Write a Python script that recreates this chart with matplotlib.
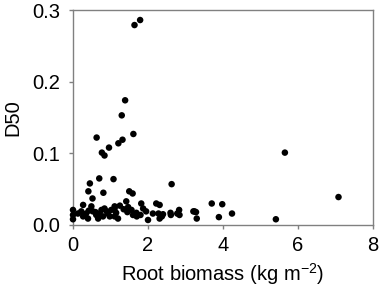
import matplotlib
matplotlib.use("Agg")
import matplotlib.pyplot as plt

plt.rcParams['font.family'] = ['Liberation Sans', 'DejaVu Sans']
plt.rcParams['mathtext.fontset'] = 'custom'
plt.rcParams['mathtext.rm'] = 'Liberation Sans'

root_biomass = [1.79, 1.64, 1.39, 1.30, 0.63, 1.61, 1.32, 1.21, 0.96, 0.77, 0.84,
                0.70, 1.08, 0.45, 0.41, 0.81, 0.52, 2.63, 1.50, 1.59, 5.65, 7.08,
                3.70, 3.98, 2.83, 2.78, 2.61, 3.21, 3.28, 3.30, 3.89, 4.24, 5.41,
                2.31, 2.37, 2.60, 2.84, 3.24, 1.42, 1.11, 1.25, 1.47, 1.56, 1.60,
                1.69, 1.82, 1.87, 1.95, 2.00, 2.22, 2.13, 2.28, 2.31, 1.11, 1.20,
                1.80, 0.00, 0.00, 0.00, 0.27, 0.49, 0.13, 0.22, 0.35, 0.42, 0.53,
                0.62, 0.71, 0.76, 0.84, 0.93, 1.02, 1.11, 0.80, 0.98, 0.40, 0.27,
                0.67, 0.60, 0.90, 1.35, 1.45, 1.70, 2.40, 1.15]
d50 = [0.286, 0.279, 0.174, 0.153, 0.122, 0.127, 0.119, 0.114, 0.108, 0.101, 0.097,
       0.065, 0.064, 0.058, 0.047, 0.045, 0.037, 0.057, 0.047, 0.044, 0.101, 0.039,
       0.030, 0.029, 0.021, 0.016, 0.014, 0.019, 0.018, 0.009, 0.011, 0.016, 0.008,
       0.028, 0.012, 0.017, 0.014, 0.019, 0.033, 0.023, 0.027, 0.025, 0.021, 0.014,
       0.017, 0.030, 0.023, 0.019, 0.007, 0.030, 0.016, 0.016, 0.009, 0.012, 0.009,
       0.014, 0.021, 0.014, 0.008, 0.028, 0.026, 0.016, 0.019, 0.016, 0.020, 0.019,
       0.014, 0.016, 0.021, 0.023, 0.016, 0.021, 0.026, 0.012, 0.012, 0.009, 0.012,
       0.009, 0.018, 0.019, 0.022, 0.018, 0.012, 0.015, 0.017]

x_ticks = [0, 2, 4, 6, 8]
y_ticks = [0.0, 0.1, 0.2, 0.3]
y_tick_labels = ['0.0', '0.1', '0.2', '0.3']

fig = plt.figure(figsize=(3.81, 2.97), dpi=100)
ax = fig.add_axes([73/381, 1 - 225/297, 300/381, 215/297])
ax.scatter(root_biomass, d50, s=22, color='black', edgecolors='none', zorder=3, clip_on=False)
ax.set_xlim(0, 8)
ax.set_ylim(0, 0.3)
ax.set_xticks(x_ticks)
ax.set_yticks(y_ticks)
ax.set_yticklabels(y_tick_labels)
for s in ax.spines.values():
    s.set_color('#808080')
    s.set_linewidth(1.0)
ax.tick_params(axis='both', colors='#808080', labelcolor='black', labelsize=14.5,
               direction='out', length=3, width=1)
ax.tick_params(axis='x', pad=5)
ax.tick_params(axis='y', pad=6)
ax.set_xlabel('Root biomass (kg m$^{\\mathrm{-2}}$)', fontsize=14.5, labelpad=4)
ax.set_ylabel('D50', fontsize=14.5, labelpad=7)
fig.savefig('out.png', dpi=100)
